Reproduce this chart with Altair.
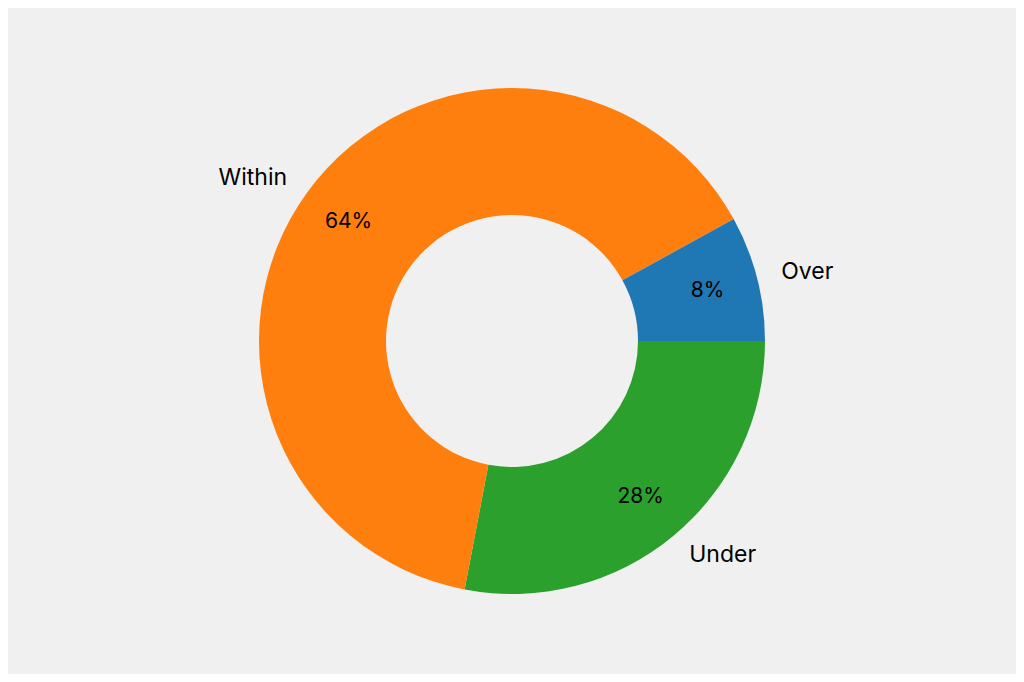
import altair as alt
import pandas as pd
import math

categories = ["Under", "Within", "Over"]
values = [28, 64, 8]
colors = ["#2ca02c", "#ff7f0e", "#1f77b4"]
pct_labels = ["28%", "64%", "8%"]

df = pd.DataFrame({"cat": categories, "value": values, "pct": pct_labels,
                   "order": [0, 1, 2]})

theta_scale = alt.Scale(range=[math.pi / 2, math.pi / 2 + 2 * math.pi])

base = alt.Chart(df).encode(
    theta=alt.Theta("value:Q", stack=True, scale=theta_scale),
    order=alt.Order("order:Q"),
)

arcs = base.mark_arc(innerRadius=126, outerRadius=253).encode(
    color=alt.Color("cat:N", scale=alt.Scale(domain=categories, range=colors), legend=None)
)

pct = base.mark_text(font="Inter", fontSize=21, color="black", baseline="middle").encode(
    text="pct:N", radius=alt.value(202)
)

left_lab = base.mark_text(font="Inter", fontSize=23, color="black", align="right",
                          baseline="middle").encode(
    text=alt.condition("datum.cat == 'Within'", "cat:N", alt.value("")),
    radius=alt.value(278),
)
right_lab = base.mark_text(font="Inter", fontSize=23, color="black", align="left",
                           baseline="middle").encode(
    text=alt.condition("datum.cat != 'Within'", "cat:N", alt.value("")),
    radius=alt.value(278),
)

chart = alt.layer(arcs, pct, left_lab, right_lab).properties(
    width=1008, height=666, background="#f0f0f0", padding=0
).configure_view(stroke=None).properties(autosize=alt.AutoSizeParams(type="none"))

chart.save("out.html", embed_options={"renderer": "svg", "actions": False})
